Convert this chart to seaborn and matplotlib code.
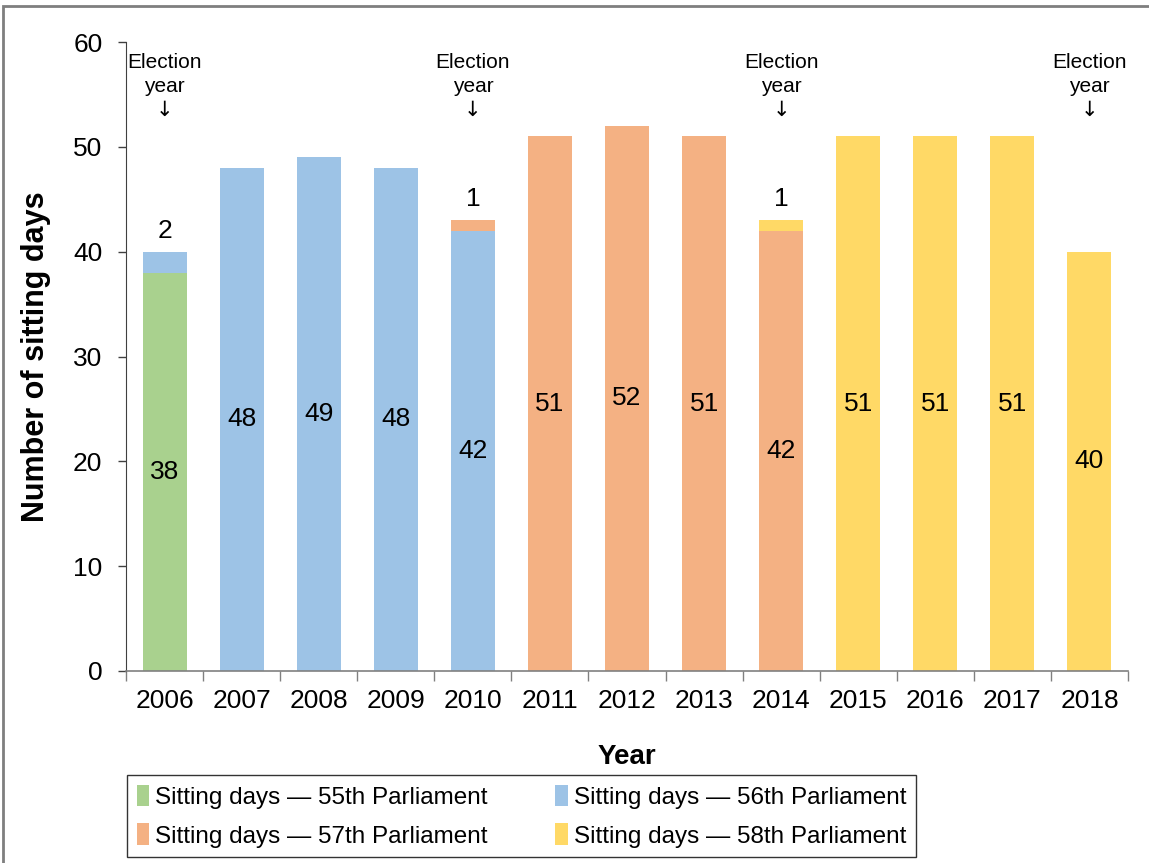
import numpy as np
import seaborn as sns
from matplotlib import pyplot as plt
from matplotlib.patches import Rectangle
from matplotlib.ticker import FixedLocator

# data
years = [str(y) for y in range(2006, 2019)]
p55 = [38, 0, 0, 0, 0, 0, 0, 0, 0, 0, 0, 0, 0]
p56 = [2, 48, 49, 48, 42, 0, 0, 0, 0, 0, 0, 0, 0]
p57 = [0, 0, 0, 0, 1, 51, 52, 51, 42, 0, 0, 0, 0]
p58 = [0, 0, 0, 0, 0, 0, 0, 0, 1, 51, 51, 51, 40]
election_years = ["2006", "2010", "2014", "2018"]
series_names = ["Sitting days \u2014 55th Parliament", "Sitting days \u2014 56th Parliament",
                "Sitting days \u2014 57th Parliament", "Sitting days \u2014 58th Parliament"]
colors = ["#A9D18E", "#9DC3E6", "#F4B183", "#FFD966"]

sns.set_style("white")
plt.rcParams['font.family'] = ['Liberation Sans', 'DejaVu Sans']
plt.rcParams['text.color'] = 'black'
plt.rcParams['xtick.color'] = 'black'
plt.rcParams['ytick.color'] = 'black'
plt.rcParams['axes.labelcolor'] = 'black'

fig = plt.figure(figsize=(11.49, 8.63), dpi=100)
ax = fig.add_axes([0.1097, 0.2225, 0.872, 0.7288])

bottom = np.zeros(len(years))
handles = []
for vals, name, col in zip([p55, p56, p57, p58], series_names, colors):
    vals = np.array(vals, dtype=float)
    sns.barplot(x=years, y=vals, bottom=bottom, color=col, width=0.57, saturation=1,
                linewidth=0, label=name, ax=ax)
    handles.append(ax.containers[-1])
    for i, v in enumerate(vals):
        if v <= 0:
            continue
        if v >= 5:
            ax.text(i, bottom[i] + v / 2, f"{v:.0f}", ha="center", va="center", fontsize=19)
        else:
            ax.text(i, bottom[i] + v + 2, f"{v:.0f}", ha="center", va="center", fontsize=19)
    bottom = bottom + vals

if ax.get_legend() is not None:
    ax.get_legend().remove()

# election year markers
for y in election_years:
    ax.text(years.index(y), 59.0, "Election\nyear", ha="center", va="top",
            fontsize=15, linespacing=1.35)
    ax.text(years.index(y), 53.5, "\u2193", ha="center", va="center",
            fontsize=15, family=["DejaVu Sans"])

ax.set_ylim(0, 60)
ax.set_xlim(-0.5, len(years) - 0.5)
ax.set_yticks(range(0, 61, 10))
ax.xaxis.set_minor_locator(FixedLocator(np.arange(-0.5, len(years), 1)))
ax.tick_params(axis="x", which="major", length=0, pad=13, labelsize=19)
ax.tick_params(axis="x", which="minor", length=7, width=1, color="#808080", direction="out", bottom=True)
ax.tick_params(axis="y", length=6, width=1, color="#404040", direction="out", pad=11, labelsize=19, left=True)

for s in ["top", "right"]:
    ax.spines[s].set_visible(False)
ax.spines["left"].set_color("#404040")
ax.spines["bottom"].set_color("#808080")
ax.spines["bottom"].set_linewidth(1.2)

ax.set_xlabel("Year", fontsize=20, fontweight="bold", labelpad=22)
ax.set_ylabel("Number of sitting days", fontsize=22, fontweight="bold", labelpad=16)

order = [0, 2, 1, 3]
leg = fig.legend([handles[i] for i in order], [series_names[i] for i in order],
                 loc="upper left", bbox_to_anchor=(0.1105, 0.102), ncol=2,
                 fontsize=17.5, frameon=True, fancybox=False, edgecolor="black",
                 handlelength=0.5, handleheight=1.0, handletextpad=0.25,
                 columnspacing=2.8, borderpad=0.4, labelspacing=0.6,
                 borderaxespad=0)
leg.get_frame().set_linewidth(1.0)

# figure border
fig.patches.append(Rectangle((0.003, -0.02), 1.1, 1.013, transform=fig.transFigure,
                             fill=False, edgecolor="#7f7f7f", linewidth=2))

fig.savefig("out.png", dpi=100)
